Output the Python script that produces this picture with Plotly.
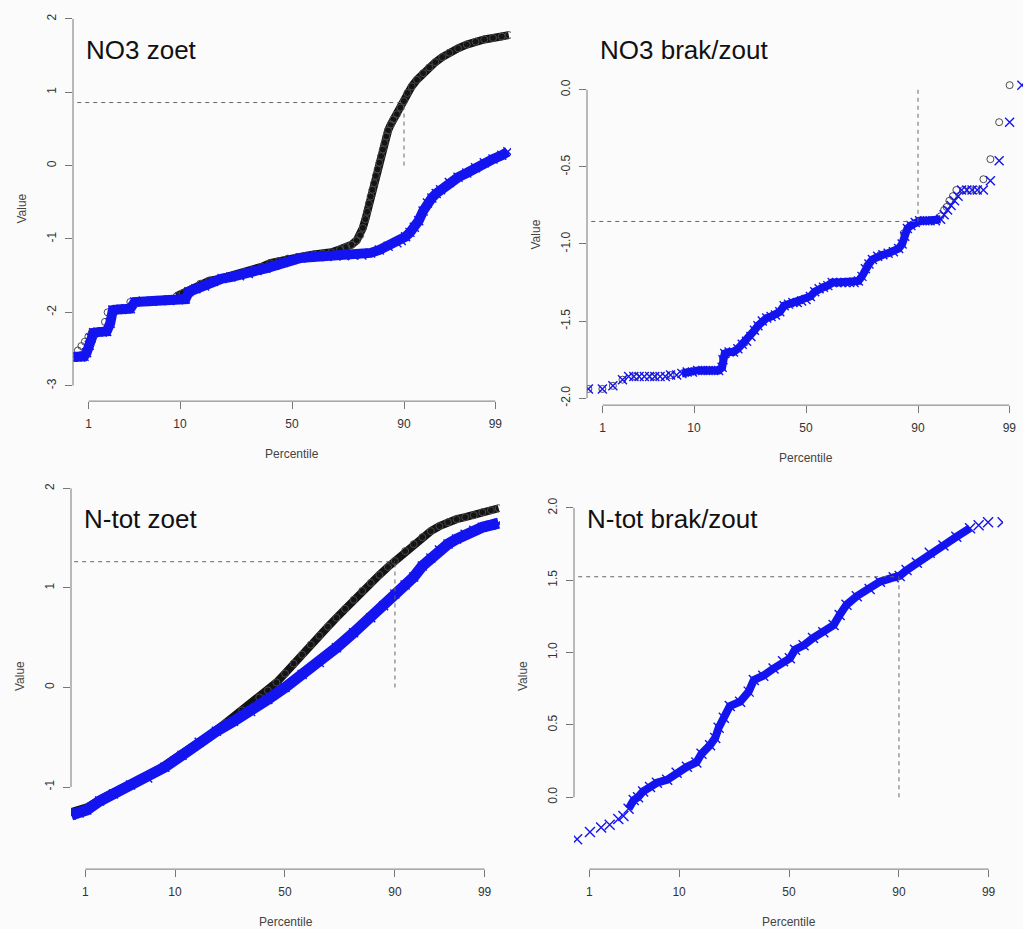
import plotly.graph_objects as go
from statistics import NormalDist

W, H = 1023, 929
probit = NormalDist().inv_cdf

# Percentile axis: ticks at these percentiles, placed on the normal-quantile scale
PCT_TICKS = [1, 10, 50, 90, 99]
REF_PCT = 90          # percentile marked with the dashed guide lines
GUIDE_START_PCT = 0.7  # where the horizontal guide starts

# ---- NO3 zoet (x = normal quantile of plotting position, y = value) ----
no3_zoet_black_q = [-2.45, -2.41, -2.37, -2.33, -2.29, -2.20, -2.14, -2.11, -2.05, -1.95,
                    -1.85, -1.75, -1.60, -1.45, -1.32, -1.25, -1.15, -1.05, -0.95, -0.85,
                    -0.75, -0.65, -0.55, -0.45, -0.35, -0.25, -0.15, -0.05, 0.05, 0.15,
                    0.25, 0.35, 0.45, 0.55, 0.62, 0.68, 0.74, 0.78, 0.81, 0.84,
                    0.86, 0.88, 0.90, 0.92, 0.94, 0.96, 0.98, 1.00, 1.02, 1.04,
                    1.06, 1.08, 1.10, 1.13, 1.16, 1.20, 1.24, 1.28, 1.32, 1.37,
                    1.43, 1.50, 1.57, 1.64, 1.72, 1.80, 1.90, 2.00, 2.10, 2.20,
                    2.30, 2.40, 2.48]
no3_zoet_black_v = [-2.52, -2.46, -2.40, -2.33, -2.27, -2.26, -2.13, -2.00, -1.96, -1.95,
                    -1.86, -1.84, -1.83, -1.82, -1.78, -1.74, -1.68, -1.61, -1.57, -1.55,
                    -1.52, -1.49, -1.45, -1.42, -1.38, -1.33, -1.30, -1.27, -1.25, -1.23,
                    -1.21, -1.20, -1.18, -1.14, -1.11, -1.08, -1.02, -0.95, -0.85, -0.73,
                    -0.63, -0.52, -0.42, -0.33, -0.24, -0.14, -0.05, 0.04, 0.13, 0.22,
                    0.31, 0.40, 0.48, 0.56, 0.63, 0.70, 0.79, 0.88, 0.99, 1.08,
                    1.17, 1.26, 1.34, 1.41, 1.48, 1.54, 1.60, 1.65, 1.69, 1.72,
                    1.74, 1.76, 1.78]
no3_zoet_blue_q = [-2.50, -2.46, -2.42, -2.38, -2.35, -2.32, -2.30, -2.27, -2.22, -2.17,
                   -2.12, -2.08, -2.05, -2.00, -1.95, -1.90, -1.85, -1.80, -1.70, -1.60,
                   -1.50, -1.40, -1.30, -1.22, -1.18, -1.10, -1.00, -0.90, -0.80, -0.70,
                   -0.60, -0.50, -0.40, -0.30, -0.20, -0.10, 0.00, 0.10, 0.20, 0.30,
                   0.40, 0.50, 0.60, 0.70, 0.80, 0.90, 1.00, 1.10, 1.20, 1.25,
                   1.30, 1.35, 1.40, 1.45, 1.50, 1.55, 1.60, 1.65, 1.70, 1.80,
                   1.90, 2.00, 2.10, 2.20, 2.30, 2.40, 2.47]
no3_zoet_blue_v = [-2.61, -2.61, -2.61, -2.60, -2.55, -2.45, -2.35, -2.28, -2.27, -2.27,
                   -2.26, -2.15, -1.97, -1.96, -1.96, -1.95, -1.95, -1.86, -1.85, -1.85,
                   -1.84, -1.84, -1.83, -1.82, -1.72, -1.68, -1.64, -1.58, -1.54, -1.52,
                   -1.50, -1.47, -1.43, -1.40, -1.36, -1.32, -1.28, -1.26, -1.25, -1.24,
                   -1.24, -1.23, -1.23, -1.22, -1.22, -1.19, -1.15, -1.10, -1.05, -1.02,
                   -0.97, -0.91, -0.84, -0.75, -0.62, -0.51, -0.44, -0.38, -0.33, -0.23,
                   -0.16, -0.10, -0.03, 0.04, 0.09, 0.14, 0.19]
no3_zoet_p90 = 0.86

# ---- NO3 brak/zout ----
no3_brak_black_q = [-2.49, -2.33, -2.21, -2.10, -1.95, -1.75, -1.55, -1.35, -1.15, -1.00,
                    -0.95, -0.85, -0.70, -0.55, -0.40, -0.25, -0.10, 0.05, 0.20, 0.40,
                    0.60, 0.70, 0.85, 1.05, 1.12, 1.20, 1.30, 1.45, 1.54, 1.58,
                    1.61, 1.64, 1.68, 1.72, 1.80, 1.88, 1.95, 2.03, 2.11, 2.21,
                    2.33]
no3_brak_black_v = [-1.94, -1.94, -1.92, -1.88, -1.86, -1.86, -1.85, -1.83, -1.82, -1.82,
                    -1.74, -1.70, -1.64, -1.53, -1.47, -1.40, -1.38, -1.34, -1.28, -1.25,
                    -1.24, -1.14, -1.07, -1.03, -0.93, -0.88, -0.85, -0.85, -0.82, -0.78,
                    -0.76, -0.72, -0.69, -0.65, -0.65, -0.65, -0.65, -0.58, -0.45, -0.21,
                    0.03]
no3_brak_blue_q = [-2.49, -2.33, -2.21, -2.10, -2.03, -1.97, -1.91, -1.85, -1.79, -1.73,
                   -1.67, -1.61, -1.55, -1.48, -1.42, -1.36, -1.30, -1.24, -1.18, -1.12,
                   -1.06, -1.00, -0.96, -0.95, -0.93, -0.88, -0.83, -0.78, -0.73, -0.68,
                   -0.63, -0.59, -0.55, -0.50, -0.45, -0.40, -0.35, -0.30, -0.25, -0.20,
                   -0.15, -0.10, -0.05, 0.00, 0.05, 0.10, 0.15, 0.20, 0.25, 0.30,
                   0.35, 0.40, 0.45, 0.50, 0.55, 0.60, 0.64, 0.68, 0.72, 0.76,
                   0.82, 0.88, 0.94, 1.00, 1.06, 1.10, 1.13, 1.16, 1.20, 1.25,
                   1.30, 1.36, 1.42, 1.48, 1.54, 1.58, 1.62, 1.66, 1.70, 1.74,
                   1.78, 1.84, 1.90, 1.96, 2.03, 2.11, 2.21, 2.33, 2.47]
no3_brak_blue_v = [-1.94, -1.94, -1.92, -1.88, -1.86, -1.86, -1.86, -1.86, -1.86, -1.86,
                   -1.86, -1.86, -1.85, -1.85, -1.84, -1.83, -1.83, -1.82, -1.82, -1.82,
                   -1.82, -1.82, -1.80, -1.75, -1.71, -1.70, -1.70, -1.68, -1.65, -1.63,
                   -1.60, -1.56, -1.53, -1.50, -1.48, -1.47, -1.46, -1.44, -1.40, -1.39,
                   -1.38, -1.38, -1.37, -1.36, -1.34, -1.31, -1.29, -1.28, -1.27, -1.25,
                   -1.25, -1.25, -1.25, -1.25, -1.25, -1.24, -1.21, -1.16, -1.13, -1.10,
                   -1.08, -1.07, -1.06, -1.05, -1.03, -1.00, -0.95, -0.90, -0.88, -0.86,
                   -0.85, -0.85, -0.85, -0.85, -0.84, -0.81, -0.78, -0.75, -0.72, -0.69,
                   -0.65, -0.65, -0.65, -0.65, -0.65, -0.59, -0.46, -0.21, 0.03]
no3_brak_p90 = -0.854

# ---- N-tot zoet ----
ntot_zoet_black_q = [-2.49, -2.30, -2.10, -1.90, -1.70, -1.50, -1.30, -1.10, -0.90, -0.70,
                     -0.50, -0.30, -0.20, -0.10, 0.00, 0.10, 0.20, 0.30, 0.40, 0.50,
                     0.60, 0.70, 0.80, 0.90, 1.00, 1.10, 1.20, 1.28, 1.40, 1.50,
                     1.60, 1.70, 1.80, 1.90, 2.00, 2.10, 2.20, 2.30, 2.40, 2.49]
ntot_zoet_black_v = [-1.25, -1.20, -1.10, -1.01, -0.92, -0.84, -0.72, -0.61, -0.49, -0.36,
                     -0.23, -0.10, -0.03, 0.05, 0.14, 0.24, 0.33, 0.43, 0.52, 0.61,
                     0.70, 0.79, 0.88, 0.97, 1.05, 1.13, 1.21, 1.27, 1.37, 1.44,
                     1.51, 1.57, 1.62, 1.66, 1.69, 1.71, 1.73, 1.76, 1.78, 1.80]
ntot_zoet_blue_q = [-2.49, -2.40, -2.31, -2.16, -2.00, -1.80, -1.60, -1.40, -1.20, -1.00,
                    -0.80, -0.60, -0.40, -0.20, 0.00, 0.20, 0.40, 0.60, 0.80, 1.00,
                    1.15, 1.28, 1.40, 1.50, 1.60, 1.70, 1.80, 1.90, 2.00, 2.10,
                    2.20, 2.30, 2.40, 2.49]
ntot_zoet_blue_v = [-1.28, -1.26, -1.23, -1.14, -1.07, -0.98, -0.91, -0.80, -0.68, -0.55,
                    -0.44, -0.34, -0.24, -0.12, 0.00, 0.13, 0.25, 0.40, 0.55, 0.70,
                    0.82, 0.94, 1.03, 1.11, 1.22, 1.30, 1.38, 1.44, 1.49, 1.54,
                    1.58, 1.61, 1.63, 1.65]
ntot_zoet_p90 = 1.263

# ---- N-tot brak/zout ----
ntot_brak_blue_q = [-2.47, -2.32, -2.19, -2.09, -1.99, -1.93, -1.87, -1.81, -1.76, -1.70,
                    -1.62, -1.54, -1.42, -1.31, -1.19, -1.08, -1.02, -0.92, -0.86, -0.82,
                    -0.76, -0.69, -0.57, -0.47, -0.41, -0.30, -0.18, -0.07, 0.01, 0.07,
                    0.17, 0.28, 0.40, 0.52, 0.59, 0.67, 0.79, 0.94, 1.06, 1.22,
                    1.29, 1.37, 1.49, 1.64, 1.80, 1.95, 2.11, 2.21, 2.32, 2.49]
ntot_brak_blue_v = [-0.29, -0.24, -0.21, -0.19, -0.15, -0.13, -0.08, -0.02, 0.00, 0.04,
                    0.07, 0.10, 0.12, 0.17, 0.21, 0.24, 0.30, 0.36, 0.41, 0.48,
                    0.55, 0.63, 0.66, 0.73, 0.81, 0.84, 0.89, 0.94, 0.96, 1.02,
                    1.05, 1.10, 1.14, 1.19, 1.26, 1.33, 1.39, 1.44, 1.49, 1.52,
                    1.53, 1.57, 1.62, 1.69, 1.74, 1.80, 1.86, 1.88, 1.90, 1.90]
ntot_brak_p90 = 1.524

# ---- styling ----
FONT = "Liberation Sans, Arial, Helvetica, sans-serif"
BG = "#fbfbfb"
AXIS_COL = "#777777"
TICK_TXT = "#333333"
LABEL_COL = "#444444"
BLUE = "#1414f0"
CIRCLE_COL = "#4a4a4a"
BAND_BLACK = "#141414"
GUIDE_COL = "#666666"

# panel boxes in pixels (left, right, top, bottom) and data ranges
panels = [
    dict(title="NO3 zoet", box=(73, 511, 12, 402), xr=(-2.506, 2.506), yr=(-3.211, 2.095),
         yticks=[-3, -2, -1, 0, 1, 2], ytext=["-3", "-2", "-1", "0", "1", "2"],
         black=(no3_zoet_black_q, no3_zoet_black_v, (14, None), 8),
         blue=(no3_zoet_blue_q, no3_zoet_blue_v, (0, None), 10),
         p90=no3_zoet_p90, title_xy=(84, 33), xsize=9),
    dict(title="NO3 brak/zout", box=(587, 1023, 60, 406), xr=(-2.506, 2.483), yr=(-2.045, 0.194),
         yticks=[-2.0, -1.5, -1.0, -0.5, 0.0], ytext=["-2.0", "-1.5", "-1.0", "-0.5", "0.0"],
         black=(no3_brak_black_q, no3_brak_black_v, None, 0),
         blue=(no3_brak_blue_q, no3_brak_blue_v, (14, 75), 8),
         p90=no3_brak_p90, title_xy=(598, 33), xsize=9),
    dict(title="N-tot zoet", box=(71, 500, 480, 871), xr=(-2.494, 2.506), yr=(-1.824, 2.094),
         yticks=[-1, 0, 1, 2], ytext=["-1", "0", "1", "2"],
         black=(ntot_zoet_black_q, ntot_zoet_black_v, (0, None), 8),
         blue=(ntot_zoet_blue_q, ntot_zoet_blue_v, (0, None), 11),
         p90=ntot_zoet_p90, title_xy=(82, 503), xsize=9),
    dict(title="N-tot brak/zout", box=(574, 1003, 480, 871), xr=(-2.506, 2.494), yr=(-0.497, 2.2),
         yticks=[0.0, 0.5, 1.0, 1.5, 2.0], ytext=["0.0", "0.5", "1.0", "1.5", "2.0"],
         black=None,
         blue=(ntot_brak_blue_q, ntot_brak_blue_v, (6, 47), 8),
         p90=ntot_brak_p90, title_xy=(585, 503), xsize=10),
]

fig = go.Figure()
x_ticks = [probit(p / 100) for p in PCT_TICKS]
x_ref = probit(REF_PCT / 100)
x_guide0 = probit(GUIDE_START_PCT / 100)

layout_axes = {}
shapes = []
annotations = []

for i, p in enumerate(panels, start=1):
    xa = "x" if i == 1 else f"x{i}"
    ya = "y" if i == 1 else f"y{i}"
    l, r, t, b = p["box"]

    # dense bands first (underneath), then the individual markers
    for key, sym, col, band_col in (("black", "circle-open", CIRCLE_COL, BAND_BLACK),
                                    ("blue", "x-thin-open", BLUE, BLUE)):
        ser = p[key]
        if ser is None:
            continue
        q, v, band, bw = ser
        if band is not None:
            s, e = band
            fig.add_trace(go.Scatter(x=q[s:e], y=v[s:e], mode="lines",
                                     line=dict(color=band_col, width=bw),
                                     xaxis=xa, yaxis=ya, hoverinfo="skip"))
        if key == "black":
            mk = dict(symbol=sym, size=7, color=col, line=dict(color=col, width=1))
        else:
            mk = dict(symbol=sym, size=p["xsize"], color=col, line=dict(color=col, width=1.4))
        fig.add_trace(go.Scatter(x=q, y=v, mode="markers", marker=mk,
                                 xaxis=xa, yaxis=ya))

    common = dict(showgrid=False, zeroline=False, showline=False, ticks="outside",
                  ticklen=7, tickwidth=1, tickcolor=AXIS_COL,
                  tickfont=dict(family=FONT, size=12, color=TICK_TXT))
    layout_axes["xaxis" if i == 1 else f"xaxis{i}"] = dict(
        domain=[l / W, r / W], range=list(p["xr"]), anchor=ya,
        tickvals=x_ticks, ticktext=[str(v) for v in PCT_TICKS],
        ticklabelstandoff=4, **common)
    layout_axes["yaxis" if i == 1 else f"yaxis{i}"] = dict(
        domain=[1 - b / H, 1 - t / H], range=list(p["yr"]), anchor=xa,
        tickvals=p["yticks"], ticktext=p["ytext"], tickangle=-90,
        ticklabelstandoff=4, **common)

    # R-style axis lines spanning first to last tick
    shapes.append(dict(type="line", xref=xa, yref=f"{ya} domain",
                       x0=x_ticks[0], x1=x_ticks[-1], y0=0, y1=0,
                       line=dict(color=AXIS_COL, width=1)))
    shapes.append(dict(type="line", xref=f"{xa} domain", yref=ya,
                       x0=0, x1=0, y0=min(p["yticks"]), y1=max(p["yticks"]),
                       line=dict(color=AXIS_COL, width=1)))

    # guide lines at the 90th percentile
    shapes.append(dict(type="line", xref=xa, yref=ya, x0=x_guide0, x1=x_ref,
                       y0=p["p90"], y1=p["p90"],
                       line=dict(color=GUIDE_COL, width=1, dash="4px,4px")))
    shapes.append(dict(type="line", xref=xa, yref=ya, x0=x_ref, x1=x_ref,
                       y0=0, y1=p["p90"],
                       line=dict(color=GUIDE_COL, width=1, dash="4px,4px")))

    tx, ty = p["title_xy"]
    annotations.append(dict(text=p["title"], xref="paper", yref="paper",
                            x=tx / W, y=1 - ty / H, xanchor="left", yanchor="top",
                            showarrow=False, font=dict(family=FONT, size=26, color="#111111")))
    cx = (l + r) / 2 if i != 2 else 806
    annotations.append(dict(text="Percentile", xref="paper", yref="paper",
                            x=cx / W, y=1 - (b + 53) / H, xanchor="center", yanchor="middle",
                            showarrow=False, font=dict(family=FONT, size=12, color=LABEL_COL)))
    annotations.append(dict(text="Value", xref="paper", yref="paper",
                            x=(l - 51) / W, y=1 - ((t + b) / 2 + 2) / H,
                            xanchor="center", yanchor="middle", textangle=-90,
                            showarrow=False, font=dict(family=FONT, size=12, color=LABEL_COL)))

fig.update_layout(
    width=W, height=H, margin=dict(l=0, r=0, t=0, b=0),
    paper_bgcolor=BG, plot_bgcolor=BG, showlegend=False,
    shapes=shapes, annotations=annotations, **layout_axes)

fig.write_html("out.html")
